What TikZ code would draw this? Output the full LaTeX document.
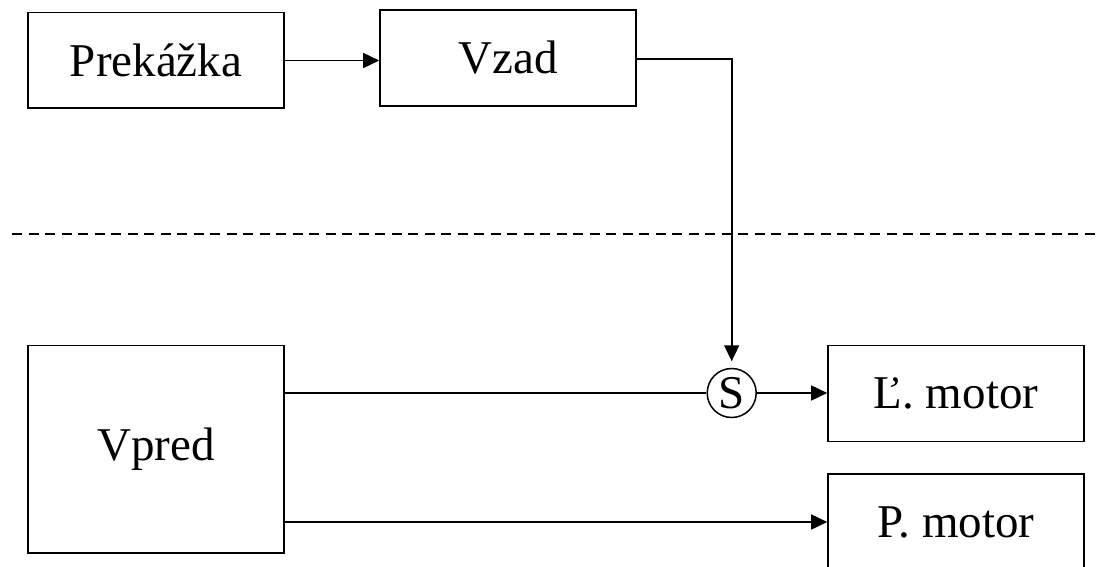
\documentclass[tikz,border=0pt]{standalone}
\usepackage{fontspec}
\setmainfont{Liberation Serif}
\usetikzlibrary{arrows.meta}
\begin{document}
\begin{tikzpicture}[x=1pt,y=-1pt,
  box/.style={draw,line width=1.6pt,minimum width=256pt,inner sep=0pt,font=\fontsize{47}{56}\selectfont},
  sumnode/.style={circle,draw,line width=1.5pt,minimum size=49pt,inner sep=0pt,font=\fontsize{47}{56}\selectfont},
  conn/.style={line width=1.6pt},
  arr/.style={-{Triangle[length=16pt,width=15pt]}},
  sepline/.style={line width=1.7pt,dash pattern=on 10pt off 6.5pt}]
\useasboundingbox (0,0) rectangle (1101,567);
\clip (0,0) rectangle (1101,567);
\node[box,minimum height=95.6pt] (prek) at (156,60.5) {Prekážka};
\node[box,minimum height=96pt] (vzad) at (508,58) {Vzad};
\node[box,minimum height=207.3pt] (vpred) at (156,449.3) {Vpred};
\node[box,minimum height=96pt] (lmotor) at (956,393.6) {Ľ. motor};
\node[box,minimum height=96pt] (pmotor) at (956,522) {P. motor};
\node[sumnode] (S) at (731.7,393) {S};
\coordinate (dl) at (12,234);
\coordinate (dr) at (1101,234);
\draw[sepline] (dl) -- (dr);
\draw[conn,arr] (prek.east) -- (prek.east -| vzad.west);
\draw[conn,arr,shorten >=6.5pt] ([yshift=-1.3pt]vzad.east) -| (S.north);
\draw[conn] (vpred.east |- S) -- (S.west);
\draw[conn,arr] (S.east) -- (S -| lmotor.west);
\draw[conn,arr] (vpred.east |- pmotor) -- (pmotor.west);
\end{tikzpicture}
\end{document}
